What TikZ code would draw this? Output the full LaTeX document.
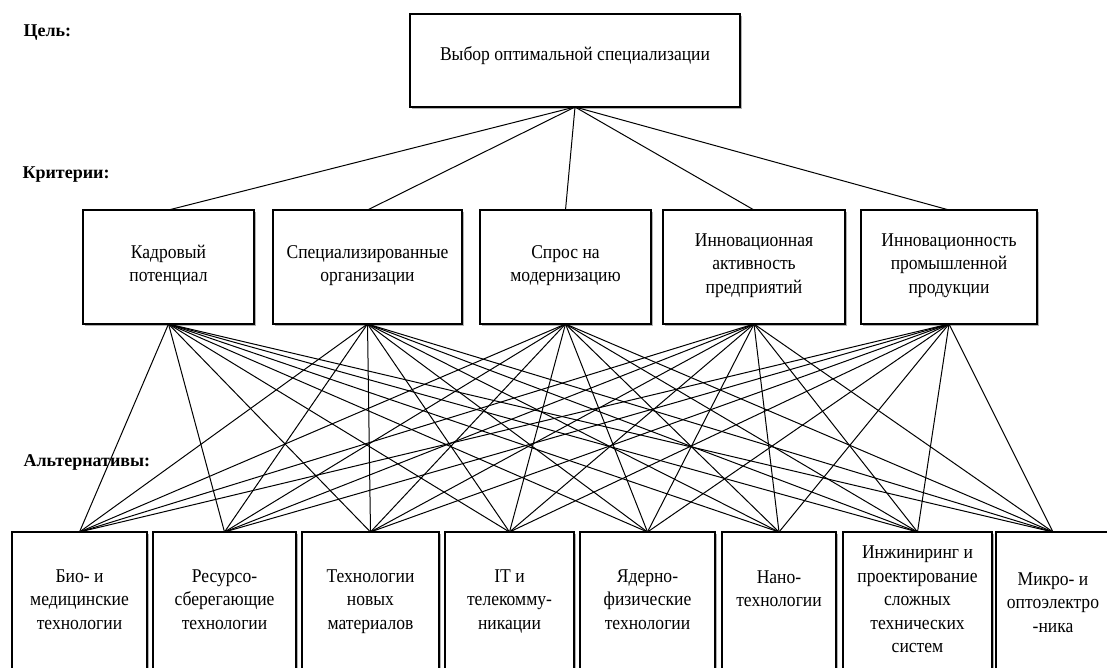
\documentclass[tikz,border=0pt]{standalone}
\usepackage{fontspec}
\setmainfont{Liberation Serif}
\usepackage{tikz}
\usetikzlibrary{positioning,shadows}

\begin{document}
\begin{tikzpicture}[
      x = 1pt, y = -1pt,
      font = \fontsize{19.5}{23.5}\selectfont\addfontfeature{FakeStretch=0.9},
      txt/.style={align = center, execute at begin node = \strut, execute at end node = \strut},
      base/.style={rectangle, draw, line width = 1.4pt, fill = white, txt,
                   inner sep = 0pt, outer sep = 0pt,
                   drop shadow = {shadow xshift = 2pt, shadow yshift = -2pt, fill = black!60}},
      crit/.style={base, minimum height = 114pt},
      alt/.style={base, minimum height = 170pt, anchor = north},
      level/.style={font = \fontsize{18}{22}\selectfont\bfseries, anchor = west},
      link/.style={line width = 1pt},
    ]
      \useasboundingbox (0,0) rectangle (1107,668);
      \clip (0,0) rectangle (1107,668);

      % goal
      \node[level] (goall) at (20,33) {Цель:};
      \node[base, minimum width = 330pt, minimum height = 93pt] (goal) at (575,60.5) {};
      \node[txt, at = (goal.center), anchor = center, yshift = 5pt] (goalt)
        {Выбор оптимальной специализации};

      % criteria
      \node[level] (critl) at (19,175) {Критерии:};
      \node[crit, minimum width = 171pt, anchor = north west] (k1) at (83,210)
        {Кадровый\\потенциал};
      \node[crit, right = 19pt of k1, minimum width = 189pt] (k2)
        {Специализированные\\организации};
      \node[crit, right = 18pt of k2, minimum width = 171pt] (k3)
        {Спрос на\\модернизацию};
      \node[crit, right = 12pt of k3, minimum width = 182pt] (k4)
        {Инновационная\\активность\\предприятий};
      \node[crit, right = 16pt of k4, minimum width = 176pt] (k5)
        {Инновационность\\промышленной\\продукции};

      \foreach \k in {1,...,5}
        \draw[link] (goal.south) -- (k\k.north);

      % alternatives
      \node[level] (altl) at (20,462) {Альтернативы:};
      \node[alt, minimum width = 135pt, anchor = north west] (a1) at (12,532) {};
      \node[alt, right = 6pt of a1, minimum width = 143pt] (a2) {};
      \node[alt, right = 6pt of a2, minimum width = 137pt] (a3) {};
      \node[alt, right = 6pt of a3, minimum width = 129pt] (a4) {};
      \node[alt, right = 6pt of a4, minimum width = 135pt] (a5) {};
      \node[alt, right = 7pt of a5, minimum width = 114pt] (a6) {};
      \node[alt, right = 7pt of a6, minimum width = 149pt] (a7) {};
      \node[alt, right = 4pt of a7, minimum width = 114pt] (a8) {};

      \node[txt, at = (a1.north), yshift = -71pt] (a1t)
        {Био- и\\медицинские\\технологии};
      \node[txt, at = (a2.north), yshift = -71pt] (a2t)
        {Ресурсо-\\сберегающие\\технологии};
      \node[txt, at = (a3.north), yshift = -71pt] (a3t)
        {Технологии\\новых\\материалов};
      \node[txt, at = (a4.north), yshift = -71pt] (a4t)
        {IT и\\телекомму-\\никации};
      \node[txt, at = (a5.north), yshift = -71pt] (a5t)
        {Ядерно-\\физические\\технологии};
      \node[txt, at = (a6.north), yshift = -60pt] (a6t)
        {Нано-\\технологии};
      \node[txt, at = (a7.north), yshift = -71pt] (a7t)
        {Инжиниринг и\\проектирование\\сложных\\технических\\систем};
      \node[txt, at = (a8.north), yshift = -74pt] (a8t)
        {Микро- и\\оптоэлектро\\-ника};

      \foreach \k in {1,...,5}
        \foreach \a in {1,...,8}
          \draw[link] (k\k.south) -- (a\a.north);

    \end{tikzpicture}
\end{document}
